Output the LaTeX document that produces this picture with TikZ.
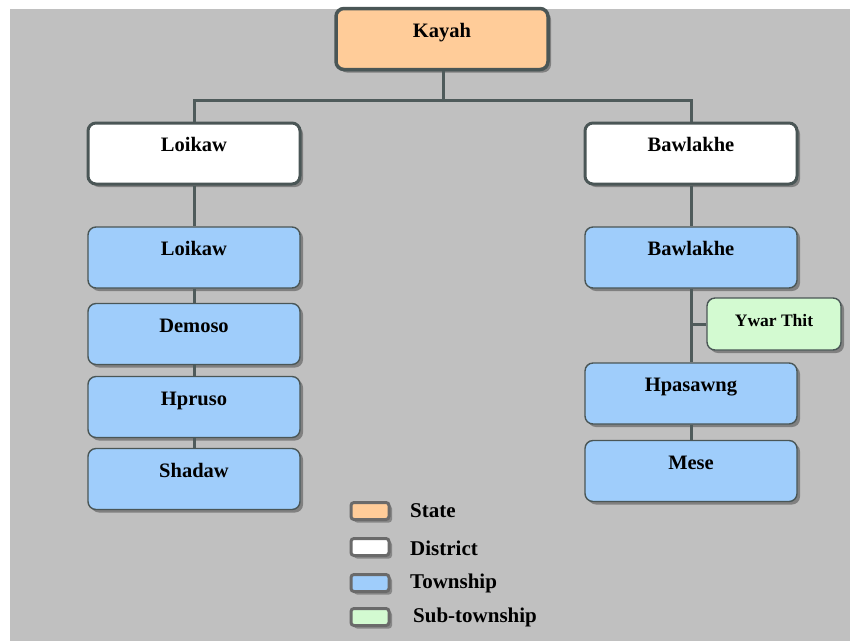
\documentclass[tikz,border=0pt]{standalone}
\usepackage{fontspec}
\setmainfont{Liberation Serif}
\usetikzlibrary{shadows}
\definecolor{bgcol}{HTML}{C0C0C0}
\definecolor{bordcol}{HTML}{4A5656}
\definecolor{linecol}{HTML}{4F5B5B}
\definecolor{statecol}{HTML}{FFCC99}
\definecolor{towncol}{HTML}{9FCDFB}
\definecolor{subcol}{HTML}{D3FAD1}
\definecolor{legbord}{HTML}{6A6A6A}
\tikzset{
  x=1pt, y=-1pt,
  boxbase/.style={rounded corners=8pt, draw=bordcol, minimum width=212pt, minimum height=61pt,
    font=\fontsize{20.5}{24}\selectfont\bfseries, text height=14pt, text depth=17.5pt, inner sep=0pt,
    drop shadow={shadow xshift=3pt, shadow yshift=-3pt, opacity=0.45, fill=black!80}},
  statebox/.style={boxbase, fill=statecol, line width=3.5pt},
  distbox/.style={boxbase, fill=white, line width=3pt},
  townbox/.style={boxbase, fill=towncol, line width=1.4pt},
  subbox/.style={boxbase, fill=subcol, line width=1.4pt, minimum width=134pt, minimum height=52pt,
    font=\fontsize{17.5}{20}\selectfont\bfseries, text height=11pt, text depth=6pt},
  conn/.style={draw=linecol, line width=3pt},
  legbox/.style={rounded corners=3pt, draw=legbord, line width=3pt, minimum width=38pt, minimum height=17pt, inner sep=0pt,
    drop shadow={shadow xshift=3pt, shadow yshift=-3pt, opacity=0.4, fill=black!80}},
  legtext/.style={anchor=west, inner sep=0pt, font=\fontsize{21}{24}\selectfont\bfseries}
}
\begin{document}
\begin{tikzpicture}
\useasboundingbox (0,0) rectangle (850,641);
\fill[white] (0,0) rectangle (850,641);
\fill[bgcol] (10,9) rectangle (850,641);

% nodes
\node[statebox] (kayah) at (442,39) {Kayah};
\node[distbox] (loikawD) at (194,153.5) {Loikaw};
\node[distbox] (bawlakheD) at (691,153.5) {Bawlakhe};

\node[townbox] (loikawT) at (194,257.5) {Loikaw};
\node[townbox] (demoso) at (194,334) {Demoso};
\node[townbox] (hpruso) at (194,407) {Hpruso};
\node[townbox] (shadaw) at (194,479) {Shadaw};

\node[townbox] (bawlakheT) at (691,257.5) {Bawlakhe};
\node[subbox] (ywar) at (774,324) {Ywar Thit};
\node[townbox] (hpasawng) at (691,393.5) {Hpasawng};
\node[townbox] (mese) at (691,471) {Mese};

% connectors
\coordinate (split) at (443,100);
\path[conn] (kayah.south -| split) -- (split);
\path[conn] (split) -| (loikawD.north);
\path[conn] (split) -| (bawlakheD.north);
\path[conn] (loikawD.south) -- (loikawT.north);
\path[conn] (loikawT.south) -- (demoso.north);
\path[conn] (demoso.south) -- (hpruso.north);
\path[conn] (hpruso.south) -- (shadaw.north);
\path[conn] (bawlakheD.south) -- (bawlakheT.north);
\path[conn] (bawlakheT.south) -- (hpasawng.north);
\path[conn] (hpasawng.south) -- (mese.north);
\path[conn] (ywar.west) -- (ywar.west -| bawlakheT.south);

% legend
\node[legbox, fill=statecol] (lstate) at (370,511) {};
\node[legbox, fill=white] (ldist) at (370,547) {};
\node[legbox, fill=towncol] (ltown) at (370,583) {};
\node[legbox, fill=subcol] (lsub) at (370,617) {};
\node[legtext] (tstate) at (410,511) {State};
\node[legtext] (tdist) at (410,548) {District};
\node[legtext] (ttown) at (410,583) {Township};
\node[legtext] (tsub) at (413,617) {Sub-township};
\end{tikzpicture}
\end{document}
